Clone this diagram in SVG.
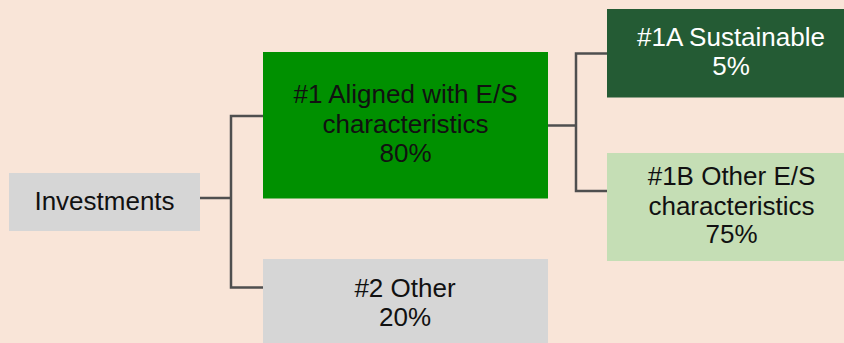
<svg xmlns="http://www.w3.org/2000/svg" width="844" height="343" viewBox="0 0 844 343">
<style>
text{font-family:"Liberation Sans",Arial,sans-serif;font-size:26px;text-anchor:middle;fill:#111}
.w{fill:#ffffff}
.c{fill:none;stroke:#4f4f4f;stroke-width:2.5}
</style>
<rect width="844" height="343" fill="#F9E5D8"/>
<g id="connectors">
<polyline class="c" points="200,198 231,198"/>
<polyline class="c" points="263,116 231,116 231,287.5 264,287.5"/>
<polyline class="c" points="548,125.5 576,125.5"/>
<polyline class="c" points="607,53.5 576,53.5 576,191 607,191"/>
</g>
<g id="investments">
<rect x="9" y="173" width="191" height="58" fill="#D6D6D6"/>
<text x="104.5" y="209.5">Investments</text>
</g>
<g id="aligned">
<rect x="263" y="52" width="285" height="146.5" fill="#009000"/>
<text x="405.5" y="103">#1 Aligned with E/S</text>
<text x="405.5" y="132.5">characteristics</text>
<text x="405.5" y="162">80%</text>
</g>
<g id="other">
<rect x="263" y="259" width="285" height="90" fill="#D6D6D6"/>
<text x="405" y="297">#2 Other</text>
<text x="405" y="326">20%</text>
</g>
<g id="sustainable">
<rect x="607" y="9" width="250" height="88.5" fill="#245B34"/>
<text class="w" x="731" y="45.5">#1A Sustainable</text>
<text class="w" x="731" y="75">5%</text>
</g>
<g id="otheres">
<rect x="607" y="153" width="250" height="108" fill="#C5DEB5"/>
<text x="731.5" y="185">#1B Other E/S</text>
<text x="731.5" y="214.5">characteristics</text>
<text x="731.5" y="243">75%</text>
</g>
</svg>
